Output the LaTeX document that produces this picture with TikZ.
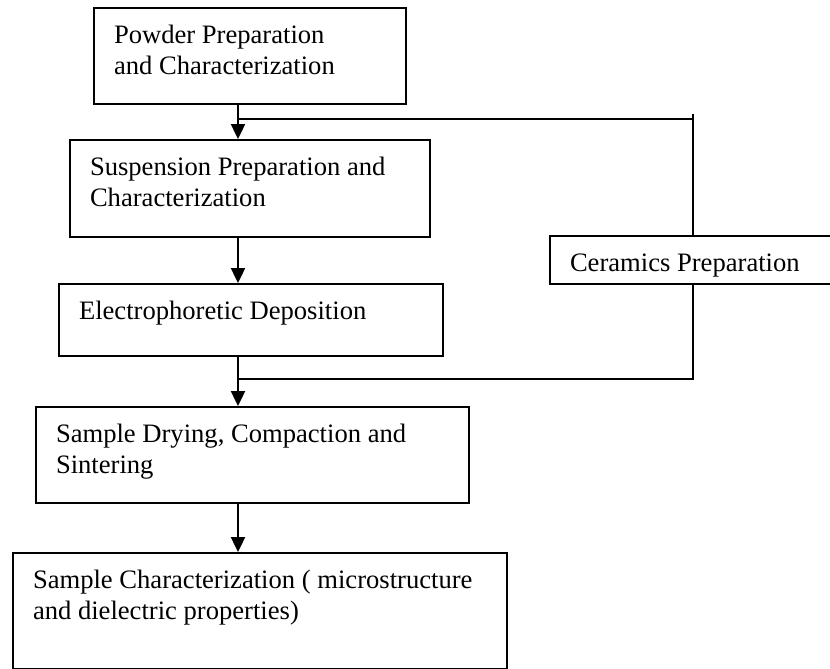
\documentclass[tikz,border=0pt]{standalone}
\usepackage{fontspec}
\setmainfont{Liberation Serif}
\usetikzlibrary{arrows.meta}

% box text: width, height, lines (first baseline 17.5pt below the top edge)
\newcommand{\boxtext}[3]{\parbox[c][#2][t]{#1}{\raggedright\leftskip=10pt\rule{0pt}{17.5pt}#3}}

\begin{document}
\begin{tikzpicture}[
    x=0.5pt, y=-0.5pt,
    proc box/.style={draw=black, line width=1pt, rectangle, anchor=north west, inner sep=0pt, font=\fontsize{13.3}{15.5}\selectfont},
    flow line/.style={line width=1.2pt, draw=black},
    flow arrow/.style={flow line, -{Triangle[width=7pt,length=7.5pt]}}
]
\clip (0,0) rectangle (830,669);

% Verfahrensschritte
\node[proc box] (pow)  at (93,7)    {\boxtext{156pt}{48pt}{Powder Preparation\\and Characterization}};
\node[proc box] (susp) at (69,139)  {\boxtext{180pt}{48.5pt}{Suspension Preparation and\\Characterization}};
\node[proc box] (epd)  at (58,283)  {\boxtext{192pt}{36pt}{Electrophoretic Deposition}};
\node[proc box] (dry)  at (35,406)  {\boxtext{216.5pt}{48pt}{Sample Drying, Compaction and\\Sintering}};
\node[proc box] (char) at (12,552)  {\boxtext{247pt}{58pt}{Sample Characterization ( microstructure\\and dielectric properties)}};
\node[proc box] (cer)  at (549,235) {\boxtext{150pt}{24pt}{Ceramics Preparation}};

% Hauptlinie
\coordinate (spine) at (238,0);
\foreach \a/\b in {pow/susp, susp/epd, epd/dry, dry/char}
    \draw[flow arrow] (\a.south -| spine) -- (\b.north -| spine);

% Nebenzweig ueber Keramik
\coordinate (feed) at (693,114);
\coordinate (tj) at (238,119);
\coordinate (bj) at (238,379);
\draw[flow line] (tj) -- (tj -| feed);
\draw[flow line] (feed) -- (cer.north -| feed);
\draw[flow line] (cer.south -| feed) |- (bj);

\end{tikzpicture}
\end{document}
